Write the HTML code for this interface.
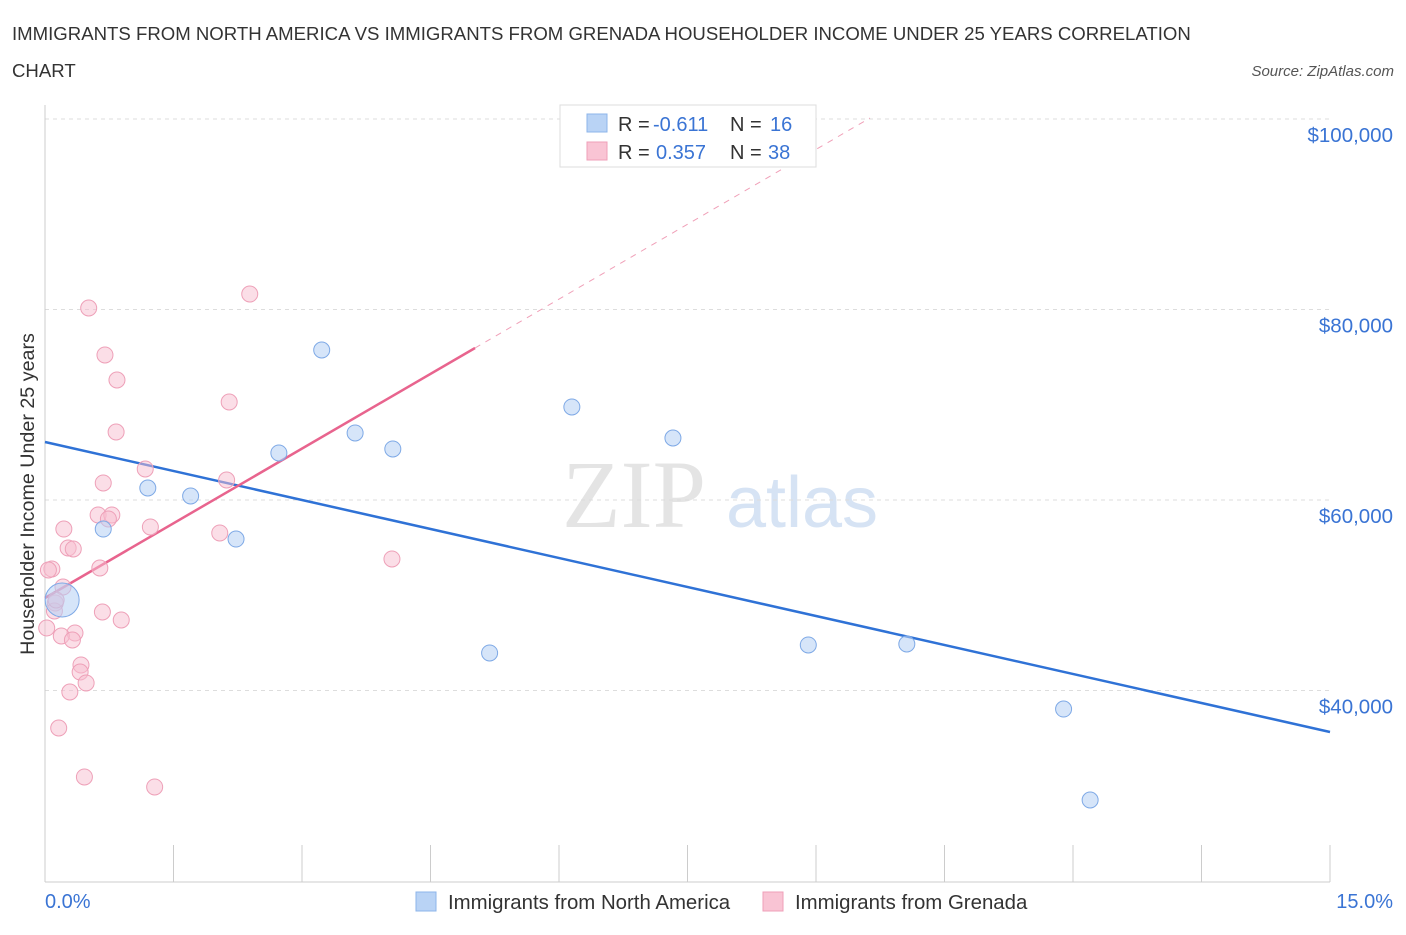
<!DOCTYPE html>
<html><head><meta charset="utf-8"><style>
body{margin:0;background:#fff;font-family:"Liberation Sans",sans-serif;}
svg text{font-family:"Liberation Sans",sans-serif;}
</style></head><body>
<svg width="1406" height="930" xmlns="http://www.w3.org/2000/svg" id="chart">
<text x="12" y="40" font-size="18.6" fill="#333">IMMIGRANTS FROM NORTH AMERICA VS IMMIGRANTS FROM GRENADA HOUSEHOLDER INCOME UNDER 25 YEARS CORRELATION</text>
<text x="12" y="77" font-size="18.6" fill="#333">CHART</text>
<text x="1394" y="76" font-size="15" fill="#555" font-style="italic" text-anchor="end">Source: ZipAtlas.com</text>
<g>
<text x="634" y="527" font-size="96" fill="#e4e4e4" text-anchor="middle" font-family="Liberation Serif" style="font-family:'Liberation Serif',serif">ZIP</text>
<text x="802" y="527" font-size="72" fill="#d6e3f4" text-anchor="middle">atlas</text>
</g>
<g id="grid"></g>
<g id="axes"></g>
<g id="lines"></g>
<g id="points"></g>
<text x="34" y="494" font-size="19.7" fill="#333" text-anchor="middle" transform="rotate(-90 34 494)">Householder Income Under 25 years</text>
<g>
<rect x="560" y="105" width="256" height="62" fill="#fff" stroke="#ddd"/>
<rect x="587" y="114" width="20" height="18" fill="#b9d3f5" stroke="#8db4ea"/>
<rect x="587" y="142" width="20" height="18" fill="#f9c4d4" stroke="#ef9fb8"/>
<text x="618" y="131" font-size="20" fill="#333">R = </text><text x="653" y="131" font-size="20" fill="#3a74d4">-0.611</text>
<text x="730" y="131" font-size="20" fill="#333">N = </text><text x="770" y="131" font-size="20" fill="#3a74d4">16</text>
<text x="618" y="159" font-size="20" fill="#333">R = </text><text x="656" y="159" font-size="20" fill="#3a74d4">0.357</text>
<text x="730" y="159" font-size="20" fill="#333">N = </text><text x="768" y="159" font-size="20" fill="#3a74d4">38</text>
</g>
<g>
<rect x="416" y="892" width="20" height="19" fill="#b9d3f5" stroke="#8db4ea"/>
<text x="448" y="909" font-size="20.4" fill="#333">Immigrants from North America</text>
<rect x="763" y="892" width="20" height="19" fill="#f9c4d4" stroke="#ef9fb8"/>
<text x="795" y="909" font-size="20.4" fill="#333">Immigrants from Grenada</text>
</g>
</svg>
<script>
const yTicks=[40000,60000,80000,100000];
const yTickLabels=["$40,000","$60,000","$80,000","$100,000"];
const xTickLabels=["0.0%","15.0%"];
const blueX=[0.20,0.68,1.20,1.70,2.23,2.73,3.23,3.62,4.06,5.19,6.15,7.33,8.91,10.06,11.89,12.20];
const blueY=[49500,56950,61260,60420,55900,64940,75750,67040,65360,43940,69770,66510,44780,44880,38050,28500];
const pinkX=[0.51,2.39,0.70,0.84,2.15,0.83,1.17,0.68,2.12,0.62,0.78,0.74,1.23,2.04,0.22,0.27,0.33,4.05,0.08,0.64,0.21,0.12,0.11,0.67,0.89,0.02,0.35,0.19,0.32,0.42,0.41,0.48,0.29,0.16,0.46,1.28,0.04,0.13];
const pinkY=[80160,81630,75230,72600,70290,67140,63260,61790,62100,58430,58430,58010,57170,56540,56950,54960,54860,53810,52760,52860,50870,49190,48350,48240,47400,46560,46040,45720,45300,42680,41940,40790,39840,36060,30920,29870,52650,49500];
const blueTrend=[[0,66090],[15,35640]];
const pinkTrend=[[0,49710],[5.02,75960]];
const pinkDash=[[5.02,75960],[9.63,100110]];
const NS="http://www.w3.org/2000/svg";
const X=v=>45+v*85.667, Y=v=>500-(v-60000)/105.0;
function mk(t,a,p){const e=document.createElementNS(NS,t);for(const k in a)e.setAttribute(k,a[k]);document.getElementById(p).appendChild(e);return e;}
yTicks.forEach((t,i)=>{
 let g=mk('line',{x1:45,x2:1330,y1:Y(t),y2:Y(t),stroke:'#ddd','stroke-dasharray':'4 4'},'grid');
 
 
 let l=mk('text',{x:1393,y:Y(t)+23,'font-size':20.5,fill:'#3a74d4','text-anchor':'end'},'axes');
 l.textContent=yTickLabels[i];
 
 
});
let ax=mk('line',{x1:45,x2:45,y1:105,y2:882,stroke:'#ccc'},'axes');


let bx=mk('line',{x1:45,x2:1330,y1:882,y2:882,stroke:'#ccc'},'axes');


for(let i=0;i<=10;i++){let t=mk('line',{x1:X(i*1.5),x2:X(i*1.5),y1:845,y2:882,stroke:'#ccc'},'axes');
 
 }
[[0,45,'start'],[1,1393,'end']].forEach(([i,x,a])=>{let t=mk('text',{x:x,y:908,'font-size':20,fill:'#3a74d4','text-anchor':a},'axes');t.textContent=xTickLabels[i];
 
 });
function line(p,c,w,dash,name){let l=mk('line',{x1:X(p[0][0]),y1:Y(p[0][1]),x2:X(p[1][0]),y2:Y(p[1][1]),stroke:c,'stroke-width':w},'lines');if(dash)l.setAttribute('stroke-dasharray',dash);
 
 }
line(pinkDash,'#f0a0b8',1,'6 6','grenada-trend-extension');
line(blueTrend,'#2f72d6',2.5,null,'north-america-trend-line');
line(pinkTrend,'#e8648e',2.5,null,'grenada-trend-line');
pinkX.forEach((x,i)=>{let c=mk('circle',{cx:X(x),cy:Y(pinkY[i]),r:8,fill:'rgba(248,190,208,0.5)',stroke:'#eea0b8','stroke-width':1},'points');
 
 });
blueX.forEach((x,i)=>{let c=mk('circle',{cx:X(x),cy:Y(blueY[i]),r:i==0?17:8,fill:'rgba(180,207,244,0.55)',stroke:'#7ea9e6','stroke-width':1},'points');
 
 });
</script>
</body></html>
